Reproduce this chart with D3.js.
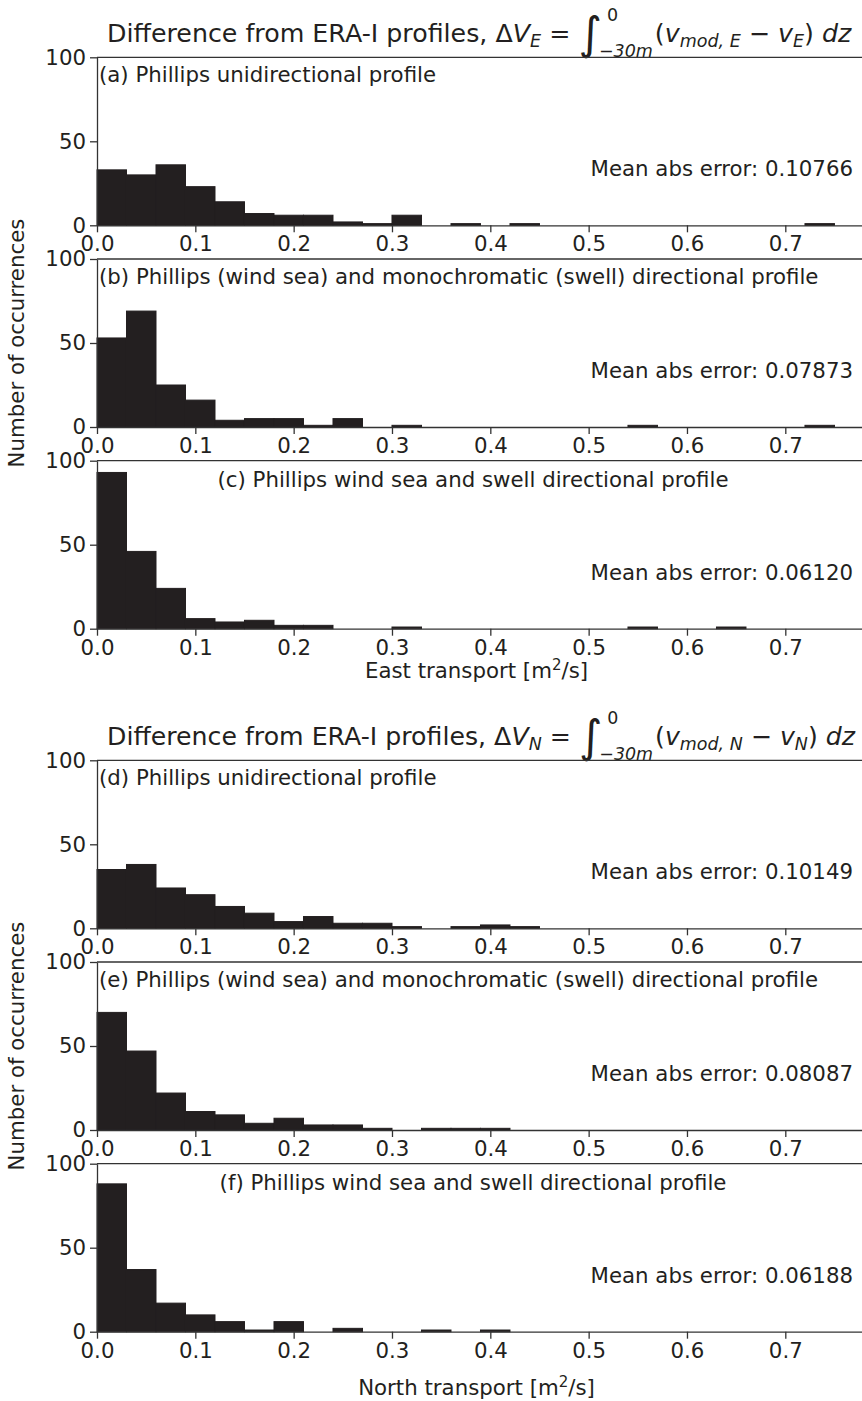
<!DOCTYPE html>
<html>
<head>
<meta charset="utf-8">
<script src="https://cdn.jsdelivr.net/npm/d3@7"></script>
<style>
  body { margin: 0; background: #fff; }
  text { font-family: "DejaVu Sans", sans-serif; fill: #231f20; white-space: pre; }
</style>
</head>
<body>
<svg width="862" height="1401"></svg>
<script>
//  histogram counts, one value per 0.03 wide bin starting at 0
var binWidth = 0.03;
var countsA = [33, 30, 36, 23, 14, 7, 6, 6, 2, 1, 6, 0, 1, 0, 1, 0, 0, 0, 0, 0, 0, 0, 0, 0, 1];
var countsB = [53, 69, 25, 16, 4, 5, 5, 1, 5, 0, 1, 0, 0, 0, 0, 0, 0, 0, 1, 0, 0, 0, 0, 0, 1];
var countsC = [93, 46, 24, 6, 4, 5, 2, 2, 0, 0, 1, 0, 0, 0, 0, 0, 0, 0, 1, 0, 0, 1, 0, 0, 0];
var countsD = [35, 38, 24, 20, 13, 9, 4, 7, 3, 3, 1, 0, 1, 2, 1, 0, 0, 0, 0, 0, 0, 0, 0, 0, 0];
var countsE = [70, 47, 22, 11, 9, 4, 7, 3, 3, 1, 0, 1, 1, 1, 0, 0, 0, 0, 0, 0, 0, 0, 0, 0, 0];
var countsF = [88, 37, 17, 10, 6, 1, 6, 0, 2, 0, 0, 1, 0, 1, 0, 0, 0, 0, 0, 0, 0, 0, 0, 0, 0];

var panelLabels = [
    "(a) Phillips unidirectional profile",
    "(b) Phillips (wind sea) and monochromatic (swell) directional profile",
    "(c) Phillips wind sea and swell directional profile",
    "(d) Phillips unidirectional profile",
    "(e) Phillips (wind sea) and monochromatic (swell) directional profile",
    "(f) Phillips wind sea and swell directional profile"
];
var meanErrors = ["0.10766", "0.07873", "0.06120", "0.10149", "0.08087", "0.06188"];
var xTicks = [0, 0.1, 0.2, 0.3, 0.4, 0.5, 0.6, 0.7];
var yTicks = [0, 50, 100];
var xMax = 0.778, yMax = 100;

var allCounts = [countsA, countsB, countsC, countsD, countsE, countsF];

var svg = d3.select("svg");
var left = 97, right = 862, panelH = 168, panelStep = 201.7;
var fs = "21.3px";
var groupTops = [57.3, 760.3];
var groups = [
    {sub: "E", xlabel: "East transport", labelOff: 49},
    {sub: "N", xlabel: "North transport", labelOff: 63}
];

var x = d3.scaleLinear().domain([0, xMax]).range([left, right]);

function drawPanel(idx, top) {
    var counts = allCounts[idx];
    var y = d3.scaleLinear().domain([0, yMax]).range([top + panelH, top]);
    var g = svg.append("g");

    // bars
    g.selectAll("rect")
        .data(counts.map(function (c, i) { return {c: c, i: i}; })
            .filter(function (d) { return d.c > 0; }))
        .enter().append("rect")
        .attr("x", function (d) { return x(d.i * binWidth); })
        .attr("width", function (d) { return x((d.i + 1) * binWidth) - x(d.i * binWidth); })
        .attr("y", function (d) { return y(d.c); })
        .attr("height", function (d) { return y(0) - y(d.c); })
        .attr("fill", "#231f20")
        .attr("stroke", "#231f20")
        .attr("stroke-width", 1);

    // axes
    var xa = g.append("g").attr("transform", "translate(0," + y(0) + ")")
        .call(d3.axisBottom(x).tickValues(xTicks).tickFormat(d3.format(".1f"))
            .tickSize(7).tickPadding(4).tickSizeOuter(0));
    var ya = g.append("g").attr("transform", "translate(" + left + ",0)")
        .call(d3.axisLeft(y).tickValues(yTicks).tickSize(7).tickPadding(4).tickSizeOuter(0));
    [xa, ya].forEach(function (a) {
        a.selectAll("text").style("font-size", fs).attr("fill", "#231f20")
            .style("font-family", "DejaVu Sans");
        a.selectAll("line,path").attr("stroke", "#333").attr("stroke-width", 1.3);
    });
    // top spine
    g.append("line").attr("x1", left).attr("x2", right)
        .attr("y1", top).attr("y2", top)
        .attr("stroke", "#333").attr("stroke-width", 1.3);

    // panel label
    var centred = (idx % 3 === 2);
    g.append("text")
        .attr("x", centred ? 473 : left + 2)
        .attr("y", top + (centred ? 26 : 25))
        .attr("text-anchor", centred ? "middle" : "start")
        .style("font-size", fs)
        .text(panelLabels[idx]);

    g.append("text")
        .attr("x", 853).attr("y", top + 119)
        .attr("text-anchor", "end")
        .style("font-size", fs)
        .text("Mean abs error: " + meanErrors[idx]);
}

function drawTitle(yBase, sub) {
    var big = 25.3, small = 17.5;
    var pieces = [
        {t: "Difference from ERA-I profiles, \u0394", s: big},
        {t: "V", s: big, it: true},
        {t: sub, s: small, it: true, dy: 5},
        {t: "\u00a0=\u00a0", s: big},
        {t: "\u222B", s: 45, dy: 7, integral: true},
        {t: "0", s: small, dy: -21, sup: true},
        {t: "\u221230m", s: small, dy: 15, it: true, sub: true},
        {t: "(", s: big, pad: 2},
        {t: "v", s: big, it: true},
        {t: "mod,\u00a0" + sub, s: small, it: true, dy: 5},
        {t: "\u00a0\u2212\u00a0", s: big},
        {t: "v", s: big, it: true},
        {t: sub, s: small, it: true, dy: 5},
        {t: ")", s: big},
        {t: "\u00a0dz", s: big, it: true}
    ];
    var tg = svg.append("g");
    var cx = 0, stackX = 0, stackEnd = 0;
    pieces.forEach(function (p) {
        var px = cx + (p.pad || 0);
        if (p.sup) { px = stackX + 5; }
        if (p.sub) { px = stackX - 3; }
        var t = tg.append("text")
            .attr("x", px).attr("y", yBase + (p.dy || 0))
            .style("font-size", p.s + "px")
            .style("font-style", p.it ? "italic" : "normal")
            .text(p.t);
        var w = t.node().getComputedTextLength();
        if (p.integral) {
            stackX = px + w;
            cx = stackX;
        } else if (p.sup || p.sub) {
            stackEnd = Math.max(stackEnd, px + w);
            cx = stackEnd;
        } else {
            cx = px + w;
        }
    });
    // squeeze into the span the reference title occupies
    var target = 748, startX = 107;
    var k = Math.min(1, target / cx);
    tg.attr("transform", "translate(" + startX + ",0) scale(" + k + ",1)");
}

groups.forEach(function (gr, gi) {
    var gTop = groupTops[gi];
    drawTitle(gTop - 15, gr.sub);
    for (var k = 0; k < 3; k++) {
        drawPanel(gi * 3 + k, gTop + k * panelStep);
    }
    var bottom = gTop + 2 * panelStep + panelH;
    var xl = svg.append("text")
        .attr("x", (left + right) / 2 - 3).attr("y", bottom + gr.labelOff)
        .attr("text-anchor", "middle")
        .style("font-size", fs)
        .text(gr.xlabel + " [m");
    xl.append("tspan").attr("dy", -8).style("font-size", "15px").text("2");
    xl.append("tspan").attr("dy", 8).text("/s]");

    var midY = gTop + panelStep + panelH / 2;
    svg.append("text")
        .attr("transform", "translate(24," + midY + ") rotate(-90)")
        .attr("text-anchor", "middle")
        .style("font-size", fs)
        .text("Number of occurrences");
});
</script>
</body>
</html>
